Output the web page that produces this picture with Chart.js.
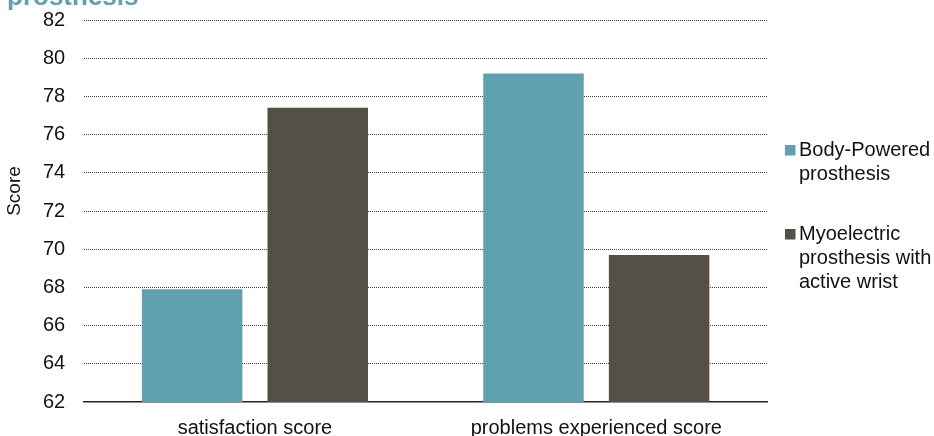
<!DOCTYPE html>
<html>
<head>
<meta charset="utf-8">
<script src="https://cdn.jsdelivr.net/npm/chart.js@4/dist/chart.umd.min.js"></script>
<style>
  html, body { margin: 0; padding: 0; background: #fff; }
  #wrap { width: 934px; height: 436px; position: relative; }
</style>
</head>
<body>
<div id="wrap"><canvas id="scoreChart"></canvas></div>
<script>
const titleText = 'prosthesis';
const categories = ['satisfaction score', 'problems experienced score'];
const seriesLabels = [['Body-Powered', 'prosthesis'], ['Myoelectric', 'prosthesis with', 'active wrist']];
const bodyPowered = [67.9, 79.2];
const myoelectric = [77.4, 69.7];
const yTicks = [62, 64, 66, 68, 70, 72, 74, 76, 78, 80, 82];
const yTitle = 'Score';

const teal = '#5fa1af';
const dark = '#545046';
const font = "'Liberation Sans', Arial, sans-serif";

// title (cut off at the top), y axis title and the wrapped legend
const extrasPlugin = {
  id: 'extras',
  afterDraw(chart) {
    const ctx = chart.ctx;
    const area = chart.chartArea;
    ctx.save();

    ctx.fillStyle = teal;
    ctx.font = 'bold 26px ' + font;
    ctx.textBaseline = 'alphabetic';
    ctx.textAlign = 'left';
    ctx.fillText(titleText, 7, 4.5);

    ctx.fillStyle = '#111';
    ctx.font = '19px ' + font;
    ctx.translate(15, 191);
    ctx.rotate(-Math.PI / 2);
    ctx.textAlign = 'center';
    ctx.textBaseline = 'middle';
    ctx.fillText(yTitle, 0, 0);
    ctx.restore();

    ctx.save();
    const lineH = 24;
    const itemGap = 60;
    let y = 150.5;
    ctx.font = '20px ' + font;
    ctx.textBaseline = 'middle';
    ctx.textAlign = 'left';
    chart.data.datasets.forEach((ds) => {
      ctx.fillStyle = ds.backgroundColor;
      ctx.fillRect(area.right + 18, y - 5.5, 10.5, 10.5);
      ctx.fillStyle = '#111';
      ds.label.forEach((line, i) => {
        ctx.fillText(line, area.right + 32, y + i * lineH);
      });
      y += (ds.label.length - 1) * lineH + itemGap;
    });
    ctx.restore();
  }
};

const ctx = document.getElementById('scoreChart').getContext('2d');

new Chart(ctx, {
  type: 'bar',
  data: {
    labels: categories,
    datasets: [{
      label: seriesLabels[0],
      data: bodyPowered,
      backgroundColor: teal,
      borderWidth: 0
    }, {
      label: seriesLabels[1],
      data: myoelectric,
      backgroundColor: dark,
      borderWidth: 0
    }]
  },
  options: {
    responsive: true,
    maintainAspectRatio: false,
    animation: false,
    layout: {
      padding: { left: 24, right: 167, top: 20, bottom: 0 }
    },
    plugins: {
      legend: { display: false },
      tooltip: { enabled: false }
    },
    datasets: {
      bar: { categoryPercentage: 0.736, barPercentage: 0.8 }
    },
    scales: {
      x: {
        grid: { display: false, drawTicks: false },
        border: { display: true, color: '#222', width: 1.5 },
        ticks: {
          color: '#111',
          padding: 16,
          font: { family: font, size: 20, lineHeight: 1 }
        },
        afterFit: (s) => { s.height = 34; }
      },
      y: {
        min: 62,
        max: 82,
        afterBuildTicks: (axis) => {
          axis.ticks = yTicks.map(v => ({ value: v }));
        },
        afterFit: (s) => { s.paddingTop = 0; s.paddingBottom = 0; },
        grid: {
          drawTicks: false,
          color: (c) => c.tick && c.tick.value === 62 ? 'rgba(0,0,0,0)' : '#444',
          lineWidth: 1
        },
        border: { display: false, dash: [1, 1] },
        ticks: {
          color: '#111',
          padding: 19,
          font: { family: font, size: 20 }
        }
      }
    }
  },
  plugins: [extrasPlugin]
});
</script>
</body>
</html>
